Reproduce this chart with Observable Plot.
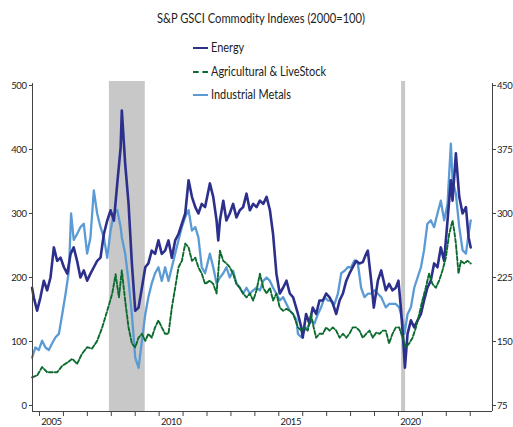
<!DOCTYPE html>
<html><head><meta charset="utf-8">
<script src="https://cdn.jsdelivr.net/npm/d3@7"></script>
<script src="https://cdn.jsdelivr.net/npm/@observablehq/plot@0.6"></script>
<style>
body{margin:0;background:#fff;}
#wrap{position:relative;width:513px;height:427px;font-family:Lato,"DejaVu Sans Condensed",sans-serif;color:#222;overflow:hidden;}
#chart{position:absolute;left:0;top:0;}
.txt{position:absolute;white-space:nowrap;transform-origin:0 50%;line-height:16px;}
#title{font-size:14px;}
.leg{font-size:12.5px;}
.legline{position:absolute;width:15px;height:0;}
</style></head>
<body>
<div id="wrap">
  <div id="chart"></div>
</div>
<script>
const titleText = "S&P GSCI Commodity Indexes (2000=100)";
const seriesNames = ["Energy", "Agricultural & LiveStock", "Industrial Metals"];
const seriesColors = ["#2c2f8c", "#0b6b2e", "#5b9bd5"];

const energyYears = [2004.69,2004.76,2004.90,2005.04,2005.18,2005.32,2005.46,2005.60,2005.74,2005.88,2006.02,2006.16,2006.30,2006.43,2006.57,2006.71,2006.85,2006.99,2007.13,2007.27,2007.41,2007.55,2007.69,2007.83,2007.97,2008.11,2008.25,2008.39,
2008.44,2008.58,2008.72,2008.86,2009.00,2009.14,2009.28,2009.42,2009.55,2009.69,2009.83,2009.97,2010.11,2010.25,2010.39,2010.53,2010.67,2010.81,2010.95,2011.09,2011.23,2011.37,2011.51,2011.64,2011.78,2011.92,
2012.12,2012.26,2012.40,2012.47,2012.54,2012.68,2012.81,2012.95,2013.09,2013.23,2013.37,2013.51,2013.65,2013.79,2013.93,2014.07,2014.21,2014.35,2014.49,2014.63,2014.76,2014.90,2015.04,2015.18,2015.32,2015.46,2015.60,
2015.80,2015.94,2016.00,2016.14,2016.28,2016.42,2016.56,2016.70,2016.84,2016.98,2017.12,2017.26,2017.40,2017.54,2017.68,2017.82,2017.95,2018.09,2018.23,2018.37,2018.51,2018.65,2018.72,2018.86,2018.97,2019.14,2019.28,
2019.47,2019.61,2019.75,2019.89,2020.00,2020.10,2020.20,2020.27,2020.38,2020.52,2020.66,2020.80,2020.94,2021.07,2021.21,2021.35,2021.49,2021.63,2021.77,2021.91,2022.05,2022.19,2022.26,2022.40,2022.54,2022.68,2022.82,2022.93,2023.02];
const energyValues = [184,169,148,169,195,180,200,247,226,231,216,206,237,247,226,200,211,195,206,216,226,231,268,289,305,289,347,403,
461,378,316,222,148,153,184,216,222,242,237,258,237,242,258,231,258,268,284,300,352,326,310,300,315,310,
347,326,289,258,289,320,289,300,315,294,305,310,331,305,315,310,320,315,326,305,268,206,175,184,195,175,169,
143,122,106,143,128,153,143,164,164,175,169,159,143,164,175,195,206,216,226,222,224,237,242,195,153,195,211,
180,190,180,184,195,153,102,59,112,133,122,133,143,164,184,195,222,216,247,226,289,352,320,394,326,300,310,263,247];

const agYears = [2004.69,2004.90,2005.11,2005.32,2005.53,2005.74,2005.95,2006.16,2006.37,2006.57,2006.78,2006.99,2007.20,2007.41,2007.62,2007.83,2008.04,2008.18,2008.32,
2008.44,2008.58,2008.72,2008.86,2009.00,2009.14,2009.28,2009.42,2009.55,2009.69,2009.83,2009.97,2010.11,2010.25,2010.39,2010.53,2010.67,2010.81,2010.95,2011.09,2011.23,2011.37,2011.51,2011.64,2011.78,2011.92,
2012.12,2012.26,2012.40,2012.54,2012.68,2012.81,2012.95,2013.09,2013.23,2013.37,2013.51,2013.65,2013.79,2013.93,2014.07,2014.21,2014.35,2014.49,2014.63,2014.76,2014.90,2015.04,2015.18,2015.32,2015.46,2015.60,
2015.80,2015.94,2016.07,2016.21,2016.35,2016.42,2016.56,2016.70,2016.84,2016.98,2017.12,2017.26,2017.40,2017.54,2017.68,2017.82,2017.95,2018.09,2018.23,2018.37,2018.51,2018.65,2018.79,2018.93,2019.07,2019.21,2019.35,
2019.47,2019.61,2019.75,2019.89,2020.03,2020.17,2020.31,2020.45,2020.59,2020.73,2020.87,2021.00,2021.14,2021.28,2021.42,2021.56,2021.70,2021.84,2021.98,2022.12,2022.26,2022.33,2022.40,2022.51,2022.61,2022.75,2022.89,2023.02];
const agValues = [44,47,60,52,52,52,62,67,73,65,81,91,89,101,122,148,175,205,169,
211,164,122,97,91,106,112,101,112,106,122,133,122,112,112,153,184,216,226,253,247,226,231,216,206,190,
195,190,175,242,226,222,216,206,190,184,175,169,175,164,180,206,184,175,184,164,175,153,148,151,148,143,
122,117,122,117,143,128,106,112,112,122,117,122,117,106,112,106,112,122,122,117,106,112,117,106,114,112,117,
117,97,112,122,122,106,91,97,106,122,143,164,184,206,190,184,195,211,231,268,289,273,253,206,226,222,226,222];

// Industrial Metals are read on the right-hand axis
const metalsYears = [2004.69,2004.83,2004.97,2005.11,2005.25,2005.39,2005.53,2005.67,2005.81,2005.95,2006.09,2006.23,2006.32,2006.43,2006.57,2006.71,2006.85,2006.99,2007.13,2007.27,2007.41,2007.55,2007.69,2007.83,2007.97,2008.11,2008.25,2008.39,
2008.44,2008.58,2008.72,2008.86,2009.00,2009.14,2009.28,2009.42,2009.55,2009.69,2009.83,2009.97,2010.11,2010.25,2010.39,2010.53,2010.67,2010.81,2010.95,2011.09,2011.23,2011.37,2011.51,2011.64,2011.78,2011.92,
2012.12,2012.26,2012.40,2012.54,2012.68,2012.81,2012.95,2013.09,2013.23,2013.37,2013.51,2013.65,2013.79,2013.93,2014.07,2014.21,2014.35,2014.49,2014.63,2014.76,2014.90,2015.04,2015.18,2015.32,2015.46,2015.60,2015.74,
2015.80,2015.94,2016.07,2016.21,2016.35,2016.49,2016.63,2016.77,2016.91,2017.05,2017.19,2017.33,2017.47,2017.61,2017.75,2017.88,2018.02,2018.16,2018.30,2018.44,2018.58,2018.72,2018.86,2019.00,2019.14,2019.28,
2019.47,2019.61,2019.75,2019.89,2020.03,2020.17,2020.25,2020.38,2020.52,2020.66,2020.80,2020.94,2021.07,2021.21,2021.35,2021.49,2021.63,2021.77,2021.91,2022.05,2022.19,2022.26,2022.40,2022.54,2022.68,2022.82,2022.93,2023.02];
const metalsValues = [131,143,140,151,143,140,148,155,159,182,206,233,300,269,276,284,288,253,272,327,300,284,272,248,280,300,304,284,
272,253,221,182,131,119,151,182,202,218,230,237,221,237,221,237,253,269,284,296,304,280,284,272,237,230,
253,237,218,225,230,237,225,233,218,213,206,213,206,210,213,210,221,225,221,213,206,198,202,194,186,182,175,
159,155,163,167,175,171,182,190,202,198,198,194,206,230,233,237,237,245,242,213,202,206,206,210,206,202,
190,194,194,194,190,175,159,182,190,213,225,237,257,288,292,284,300,315,292,311,382,339,323,284,257,253,276,292];

const recessionStart = [2007.92, 2020.13];
const recessionEnd = [2009.42, 2020.30];

const leftTicks = [0, 100, 200, 300, 400, 500];
const rightTicks = [75, 150, 225, 300, 375, 450];
const tickYears = d3.range(2005, 2024);
const labelYears = [2005, 2010, 2015, 2020];

const xDomain = [2004.7075, 2023.93];
const yDomain = [-9.375, 506.25];

// secondary axis: right 75..450 spans the same height as left 0..500
const rightToLeft = d3.scaleLinear().domain([rightTicks[0], rightTicks[rightTicks.length-1]]).range([leftTicks[0], leftTicks[leftTicks.length-1]]);

const energy = energyYears.map((t, i) => ({t, v: energyValues[i]}));
const ag = agYears.map((t, i) => ({t, v: agValues[i]}));
const metals = metalsYears.map((t, i) => ({t, v: rightToLeft(metalsValues[i])}));
const recessions = recessionStart.map((s, i) => ({s, e: recessionEnd[i]}));

const axisColor = "#444";
const chart = Plot.plot({
  width: 513, height: 427,
  marginLeft: 32, marginRight: 21, marginTop: 81, marginBottom: 16,
  x: {type: "linear", domain: xDomain},
  y: {domain: yDomain},
  style: {fontFamily: 'Lato,"DejaVu Sans Condensed",sans-serif', fontSize: "9.5px", color: "#222", background: "transparent", letterSpacing: "-0.4px", overflow: "visible"},
  marks: [
    Plot.rect(recessions, {x1: "s", x2: "e", y1: () => yDomain[0], y2: () => yDomain[1], fill: "#c8c8c8"}),
    Plot.line(metals, {x: "t", y: "v", stroke: seriesColors[2], strokeWidth: 2.3}),
    Plot.line(energy, {x: "t", y: "v", stroke: seriesColors[0], strokeWidth: 2.6}),
    Plot.line(ag, {x: "t", y: "v", stroke: seriesColors[1], strokeWidth: 1.9, strokeDasharray: "4,2"}),
    Plot.ruleX([xDomain[0]], {y1: () => yDomain[0], y2: () => 503, stroke: axisColor}),
    Plot.ruleX([xDomain[1]], {y1: () => yDomain[0], y2: () => 503, stroke: axisColor}),
    Plot.ruleY([yDomain[0]], {stroke: axisColor}),
    Plot.axisY({anchor: "left", label: null, ticks: leftTicks, tickSize: 3, tickPadding: 3, tickFormat: d => String(d), stroke: axisColor}),
    Plot.axisY({anchor: "right", label: null, ticks: rightTicks.map(r => rightToLeft(r)), tickSize: 3, tickPadding: 1.5, tickFormat: d => String(Math.round(rightToLeft.invert(d))), stroke: axisColor}),
    Plot.axisX({label: null, ticks: tickYears, tickSize: 5, tickFormat: () => "", stroke: axisColor}),
    Plot.axisX({label: null, ticks: labelYears.map(y => y + 0.5), tickSize: 0, tickPadding: 7, tickFormat: d => String(Math.round(d - 0.5))})
  ]
});
document.getElementById("chart").appendChild(chart);

const wrap = document.getElementById("wrap");
function placeText(text, cls, left, centerY) {
  const el = document.createElement("div");
  el.className = "txt " + cls;
  el.textContent = text;
  el.style.left = left + "px";
  el.style.top = (centerY - 8) + "px";
  wrap.appendChild(el);
  return el;
}
// title: natural-width text squeezed to the narrow face of the original
const title = placeText(titleText, "", 157, 18);
title.id = "title";
const tw = title.getBoundingClientRect().width;
title.style.transform = `scaleX(${208 / tw})`;

const legendY = [48, 71.5, 95];
const legEls = seriesNames.map((name, i) => {
  const line = document.createElement("div");
  line.className = "legline";
  line.style.left = "193px";
  line.style.top = (legendY[i] - 1) + "px";
  line.style.borderTop = `2px ${i === 1 ? "dashed" : "solid"} ${seriesColors[i]}`;
  wrap.appendChild(line);
  return placeText(name, "leg", 211, legendY[i]);
});
const lw = legEls[1].getBoundingClientRect().width;
legEls.forEach(el => el.style.transform = `scaleX(${115 / lw})`);
</script>
</body></html>
